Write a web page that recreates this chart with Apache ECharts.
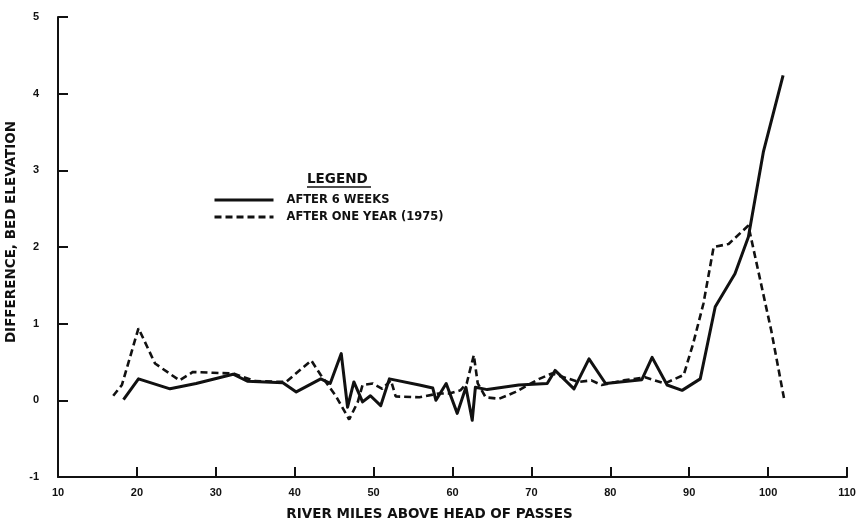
<!DOCTYPE html>
<html>
<head>
<meta charset="utf-8">
<style>
  html, body { margin: 0; padding: 0; background: #fff; }
  #chart { width: 856px; height: 526px; }
</style>
<script src="https://cdn.jsdelivr.net/npm/echarts@6/dist/echarts.min.js"></script>
</head>
<body>
<div id="chart"></div>
<script>
// Bed elevation change along the river, two survey dates
const seriesNames = ['AFTER 6 WEEKS', 'AFTER ONE YEAR (1975)'];

const weeksMiles = [18.3, 20.2, 24.2, 27.5, 32.2, 34.0, 38.5, 40.2, 43.3, 44.5, 45.9, 46.7, 47.5, 48.6, 49.6, 50.9, 52.0,
  55.8, 57.5, 57.9, 59.2, 60.6, 61.7, 62.5, 62.9, 64.4, 68.4, 72.0, 73.0, 75.4, 77.3, 79.4, 84.0, 85.3, 87.2, 89.1,
  91.4, 93.3, 95.8, 97.5, 99.4, 101.9];
const weeksDiff = [0.01, 0.28, 0.15, 0.22, 0.34, 0.25, 0.23, 0.11, 0.28, 0.22, 0.61, -0.09, 0.24, -0.02, 0.06, -0.07, 0.28,
  0.20, 0.16, 0.00, 0.22, -0.17, 0.17, -0.26, 0.17, 0.14, 0.20, 0.22, 0.39, 0.15, 0.54, 0.22, 0.27, 0.56, 0.20, 0.13,
  0.28, 1.22, 1.65, 2.13, 3.24, 4.24];

const yearMiles = [17.0, 18.1, 20.2, 22.3, 25.4, 27.1, 29.6, 32.2, 35.0, 38.9, 42.1, 43.3, 45.2, 46.9, 48.0, 48.6, 49.9,
  51.1, 52.2, 52.8, 55.8, 58.3, 59.6, 61.0, 61.8, 62.7, 63.2, 64.2, 65.9, 68.0, 71.0, 72.6, 76.0, 77.6, 78.9, 81.7,
  84.4, 86.9, 89.3, 90.5, 91.8, 93.1, 95.0, 97.5, 97.9, 100.4, 102.1];
const yearDiff = [0.06, 0.20, 0.94, 0.48, 0.26, 0.37, 0.36, 0.35, 0.25, 0.24, 0.52, 0.33, 0.06, -0.25, -0.02, 0.20, 0.22,
  0.15, 0.26, 0.05, 0.04, 0.09, 0.09, 0.13, 0.22, 0.59, 0.22, 0.04, 0.02, 0.11, 0.28, 0.35, 0.24, 0.26, 0.20, 0.26,
  0.30, 0.22, 0.33, 0.74, 1.26, 2.00, 2.04, 2.28, 2.09, 0.91, -0.02];

const xTitle = 'RIVER MILES ABOVE HEAD OF PASSES';
const yTitle = 'DIFFERENCE, BED ELEVATION';
const legendHeading = 'LEGEND';

const zip = (xs, ys) => xs.map((x, i) => [x, ys[i]]);

const ink = '#111';
const tickFont = { color: ink, fontFamily: 'Liberation Sans', fontWeight: 'bold', fontSize: 11 };
const titleFont = { color: ink, fontFamily: 'DejaVu Sans', fontWeight: 'bold', fontSize: 13.5 };

const chart = echarts.init(document.getElementById('chart'), null, { renderer: 'canvas' });
chart.setOption({
  backgroundColor: '#fff',
  animation: false,
  grid: { left: 58, right: 9, top: 17, bottom: 49, containLabel: false, outerBoundsMode: 'none' },
  title: {
    text: legendHeading,
    left: 307, top: 172, padding: 0,
    textStyle: { color: ink, fontFamily: 'DejaVu Sans', fontWeight: 'bold', fontSize: 13.5 }
  },
  graphic: [{
    type: 'line',
    shape: { x1: 307, y1: 187, x2: 371, y2: 187 },
    style: { stroke: ink, lineWidth: 1.5 }
  }],
  legend: {
    orient: 'vertical',
    left: 213, top: 194, padding: 0,
    itemWidth: 59, itemHeight: 12, itemGap: 5,
    data: seriesNames,
    itemStyle: { opacity: 0 },
    lineStyle: { width: 3 },
    textStyle: { color: ink, fontFamily: 'DejaVu Sans', fontWeight: 'bold', fontSize: 11.5, padding: [0, 0, 0, 8] }
  },
  xAxis: {
    type: 'value', min: 10, max: 110, interval: 10,
    name: xTitle, nameLocation: 'middle', nameGap: 30,
    nameTextStyle: Object.assign({}, titleFont, { padding: [0, 46, 0, 0] }),
    axisLine: { show: true, onZero: false, lineStyle: { color: ink, width: 2 } },
    axisTick: { show: true, inside: true, length: 10, lineStyle: { color: ink, width: 2 } },
    axisLabel: Object.assign({ margin: 10 }, tickFont),
    splitLine: { show: false }
  },
  yAxis: {
    type: 'value', min: -1, max: 5, interval: 1,
    name: yTitle, nameLocation: 'middle', nameGap: 31,
    nameTextStyle: Object.assign({}, titleFont, { padding: [0, 0, 0, 30] }),
    axisLine: { show: true, onZero: false, lineStyle: { color: ink, width: 2 } },
    axisTick: { show: true, inside: true, length: 10, lineStyle: { color: ink, width: 2 } },
    axisLabel: Object.assign({ margin: 19 }, tickFont),
    splitLine: { show: false }
  },
  series: [
    {
      name: seriesNames[0], type: 'line', data: zip(weeksMiles, weeksDiff),
      symbol: 'none', smooth: false,
      lineStyle: { color: ink, width: 3, type: 'solid', join: 'round' },
      itemStyle: { color: ink }
    },
    {
      name: seriesNames[1], type: 'line', data: zip(yearMiles, yearDiff),
      symbol: 'none', smooth: false,
      lineStyle: { color: ink, width: 2.6, type: [7, 4] },
      itemStyle: { color: ink }
    }
  ]
});
</script>
</body>
</html>
